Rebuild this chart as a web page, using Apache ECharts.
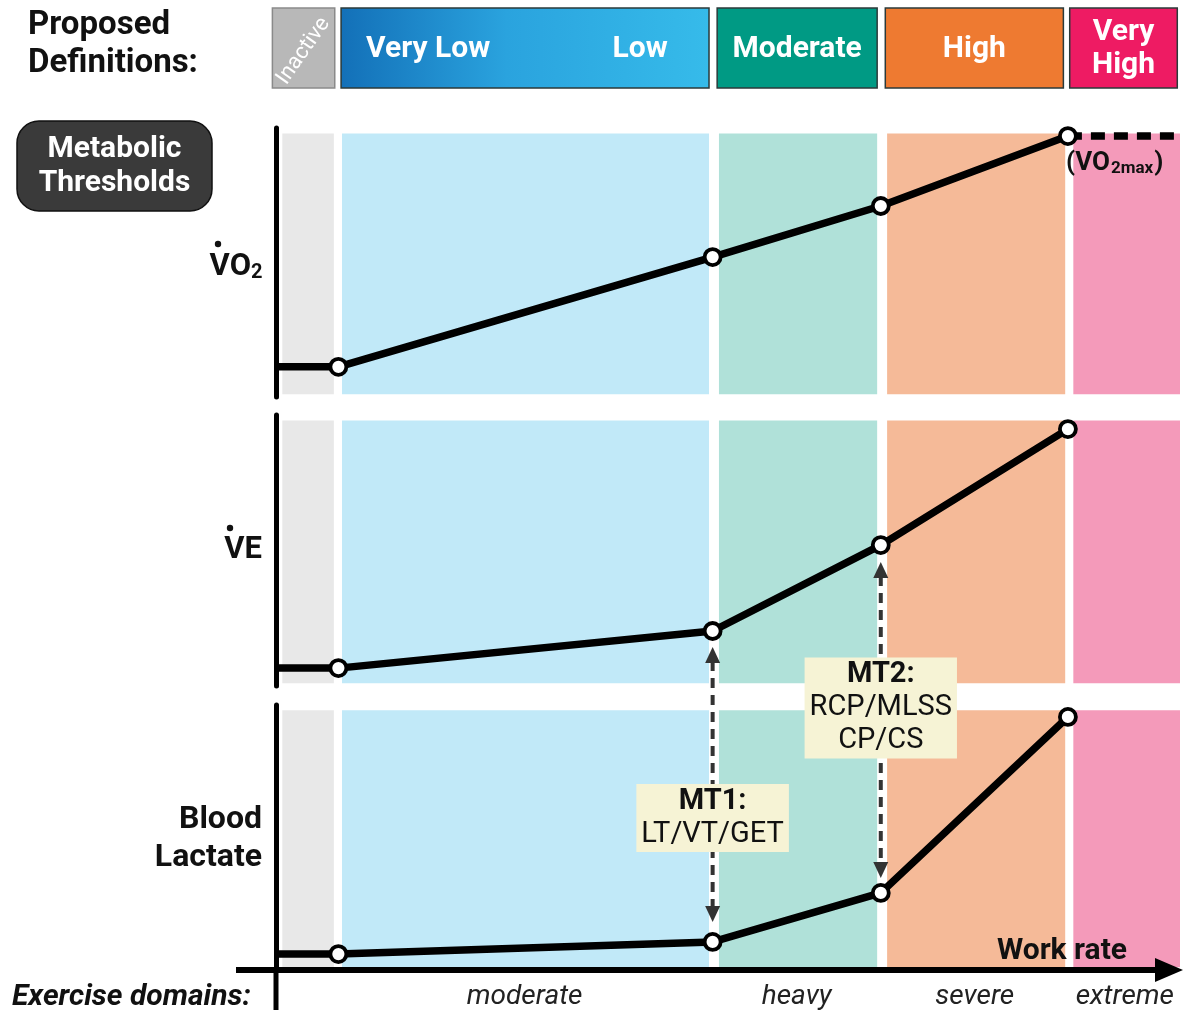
<!DOCTYPE html>
<html><head><meta charset="utf-8">
<script src="https://cdn.jsdelivr.net/npm/echarts@6/dist/echarts.min.js"></script>
<style>html,body{margin:0;padding:0;background:#fff}#c{width:1200px;height:1014px}</style>
</head><body><div id="c"></div>
<script>
// ---- data (work rate in arbitrary units 0-100, responses in arbitrary units 0-100) ----
const workRate = [0, 6.9, 48.3, 66.9, 87.6];
const vo2 = [11.2, 11.2, 52.0, 71.0, 97.0];
const vo2maxPlateau = [[87.6, 97.0], [100, 97.0]];
const ve = [6.6, 6.6, 20.3, 52.0, 94.8];
const lactate = [6.0, 6.0, 10.6, 29.1, 95.5];
const bandBounds = [[0.7, 6.4], [7.3, 47.9], [49.0, 66.5], [67.6, 87.3], [88.2, 100]];
const bandColors = ['#e8e8e8', '#c1e9f8', '#b0e1d9', '#f5ba98', '#f49aba'];
const definitionBounds = [[-0.4, 6.5], [7.2, 47.9], [48.8, 66.5], [67.4, 87.1], [87.8, 99.7]];
const definitionFills = ['#b8b8b8', 'grad', '#009a84', '#ee7a31', '#ee1b63'];
const domains = ['moderate', 'heavy', 'severe', 'extreme'];
const domainCenters = [27.5, 57.6, 77.3, 93.9];
const mt1 = {x: 48.3, title: 'MT1:', lines: 'LT/VT/GET'};
const mt2 = {x: 66.9, title: 'MT2:', lines: 'RCP/MLSS\nCP/CS'};

const FONT = 'Roboto';
const chart = echarts.init(document.getElementById('c'), null, {renderer: 'canvas'});
const mctx = document.createElement('canvas').getContext('2d');
const measure = (t, f) => { mctx.font = f; return mctx.measureText(t).width; };

const grids = [
  {left: 276, width: 904, top: 128, height: 269},
  {left: 276, width: 904, top: 415, height: 271},
  {left: 276, width: 904, top: 705, height: 265}
];
const xAxes = grids.map((g, i) => ({gridIndex: i, type: 'value', min: 0, max: 100, show: false}));
const yAxes = grids.map((g, i) => ({
  gridIndex: i, type: 'value', min: 0, max: 100,
  axisLine: {show: true, lineStyle: {color: '#000', width: 5}},
  axisTick: {show: false}, axisLabel: {show: false}, splitLine: {show: false}
}));

function bandsArea() {
  return {
    silent: true,
    data: bandBounds.map((b, i) => [
      {xAxis: b[0], yAxis: 1, itemStyle: {color: bandColors[i], opacity: 1}},
      {xAxis: b[1], yAxis: 98}
    ])
  };
}
function curve(vals, gi) {
  return {
    type: 'line', xAxisIndex: gi, yAxisIndex: gi, z: 5,
    data: workRate.map((x, i) => i === 0 ? {value: [x, vals[i]], symbol: 'none'} : [x, vals[i]]),
    symbol: 'circle', symbolSize: 16,
    lineStyle: {color: '#000', width: 7.5},
    itemStyle: {color: '#fff', borderColor: '#000', borderWidth: 3.8},
    animation: false
  };
}
const series = [];
[0, 1, 2].forEach(gi => {
  series.push({type: 'line', xAxisIndex: gi, yAxisIndex: gi, z: 1, data: [], markArea: bandsArea(), animation: false});
});
series.push({
  type: 'line', xAxisIndex: 0, yAxisIndex: 0, z: 4, data: vo2maxPlateau, symbol: 'none',
  lineStyle: {color: '#000', width: 7.5, type: [14, 9]}, animation: false
});
series.push(curve(vo2, 0));
series.push(curve(ve, 1));
series.push(curve(lactate, 2));

chart.setOption({
  backgroundColor: '#fff',
  animation: false,
  grid: grids, xAxis: xAxes, yAxis: yAxes, series: series
});

// ---- decorations positioned through the chart's own scales ----
const px = (gi, x, y) => chart.convertToPixel({gridIndex: gi}, [x, y]);
const G = [];

// Header
G.push({type: 'text', x: 28, y: 45, z: 50, style: {text: 'Proposed\nDefinitions:', fill: '#111', font: 'bold 33px ' + FONT, lineHeight: 38, align: 'left', verticalAlign: 'middle'}});
const headTop = 8, headBottom = 88;
definitionBounds.forEach((b, i) => {
  const x0 = px(0, b[0], 0)[0], x1 = px(0, b[1], 0)[0];
  let fill = definitionFills[i];
  if (fill === 'grad') fill = new echarts.graphic.LinearGradient(0, 0, 1, 0, [{offset: 0, color: '#1370b8'}, {offset: 0.45, color: '#2aa3de'}, {offset: 1, color: '#36bbea'}]);
  G.push({type: 'rect', z: 40, shape: {x: x0, y: headTop, width: x1 - x0, height: headBottom - headTop},
    style: {fill: fill, stroke: i === 0 ? '#8a8a8a' : '#2b3a3a', lineWidth: 1.5}});
  const cx = (x0 + x1) / 2, cy = (headTop + headBottom) / 2 + 1;
  const ws = {fill: '#fff', font: 'bold 30px ' + FONT, align: 'center', verticalAlign: 'middle'};
  if (i === 0) {
    G.push({type: 'text', x: cx, y: cy + 2, rotation: Math.PI * 55 / 180, z: 50, style: Object.assign({}, ws, {text: 'Inactive', font: '22px ' + FONT})});
  } else if (i === 1) {
    G.push({type: 'text', x: x0 + 25, y: cy, z: 50, style: Object.assign({}, ws, {text: 'Very Low', align: 'left'})});
    G.push({type: 'text', x: x0 + 299, y: cy, z: 50, style: Object.assign({}, ws, {text: 'Low'})});
  } else if (i === 2) {
    G.push({type: 'text', x: cx, y: cy, z: 50, style: Object.assign({}, ws, {text: 'Moderate'})});
  } else if (i === 3) {
    G.push({type: 'text', x: cx, y: cy, z: 50, style: Object.assign({}, ws, {text: 'High'})});
  } else {
    G.push({type: 'text', x: cx, y: cy, z: 50, style: Object.assign({}, ws, {text: 'Very\nHigh', lineHeight: 33})});
  }
});

// Metabolic thresholds badge
G.push({type: 'rect', z: 40, shape: {x: 17, y: 121, width: 195, height: 90, r: 22}, style: {fill: '#3a3a3a', stroke: '#111', lineWidth: 1.5}});
G.push({type: 'text', x: 114.5, y: 166, z: 50, style: {text: 'Metabolic\nThresholds', fill: '#fff', font: 'bold 30px ' + FONT, lineHeight: 34, align: 'center', verticalAlign: 'middle'}});

// Y labels
G.push({type: 'text', x: 251, y: 267, z: 50, style: {text: 'VO', fill: '#111', font: 'bold 31px ' + FONT, align: 'right', verticalAlign: 'middle'}});
G.push({type: 'text', x: 251, y: 273, z: 50, style: {text: '2', fill: '#111', font: 'bold 20px ' + FONT, align: 'left', verticalAlign: 'middle'}});
G.push({type: 'circle', z: 50, shape: {cx: 218, cy: 244, r: 3.2}, style: {fill: '#111'}});
G.push({type: 'text', x: 262, y: 550, z: 50, style: {text: 'VE', fill: '#111', font: 'bold 31px ' + FONT, align: 'right', verticalAlign: 'middle'}});
G.push({type: 'circle', z: 50, shape: {cx: 230, cy: 528, r: 3.2}, style: {fill: '#111'}});
G.push({type: 'text', x: 262, y: 839, z: 50, style: {text: 'Blood\nLactate', fill: '#111', font: 'bold 32px ' + FONT, lineHeight: 38, align: 'right', verticalAlign: 'middle'}});

// VO2max label
const vmx = px(0, 87.6, 97.0);
const fBig = 'bold 26px ' + FONT, fSub = 'bold 17px ' + FONT;
let lx = vmx[0] - 2;
G.push({type: 'text', x: lx, y: vmx[1] + 27, z: 50, style: {text: '(VO', fill: '#111', font: fBig, align: 'left', verticalAlign: 'middle'}});
lx += measure('(VO', fBig) + 1;
G.push({type: 'text', x: lx, y: vmx[1] + 33, z: 50, style: {text: '2max', fill: '#111', font: fSub, align: 'left', verticalAlign: 'middle'}});
lx += measure('2max', fSub) + 1;
G.push({type: 'text', x: lx, y: vmx[1] + 27, z: 50, style: {text: ')', fill: '#111', font: fBig, align: 'left', verticalAlign: 'middle'}});

// Threshold arrows
function arrow(x, topY, botY) {
  const c = '#333';
  G.push({type: 'polygon', z: 30, shape: {points: [[x, topY], [x - 7.5, topY + 16], [x + 7.5, topY + 16]]}, style: {fill: c}});
  G.push({type: 'polygon', z: 30, shape: {points: [[x, botY], [x - 7.5, botY - 16], [x + 7.5, botY - 16]]}, style: {fill: c}});
  G.push({type: 'line', z: 30, shape: {x1: x, y1: topY + 14, x2: x, y2: botY - 14}, style: {stroke: c, lineWidth: 4, lineDash: [10, 7]}});
}
const a1t = px(1, mt1.x, ve[2]), a1b = px(2, mt1.x, lactate[2]);
arrow(a1t[0], a1t[1] + 16, a1b[1] - 20);
const a2t = px(1, mt2.x, ve[3]), a2b = px(2, mt2.x, lactate[3]);
arrow(a2t[0], a2t[1] + 17, a2b[1] - 15);

function mtBox(x, y, t) {
  G.push({type: 'text', x: x, y: y, z: 60, style: {
    text: '{b|' + t.title + '}\n{r|' + t.lines.split('\n').join('}\n{r|') + '}',
    rich: {b: {font: 'bold 29px ' + FONT, fill: '#111', lineHeight: 33, align: 'center'}, r: {font: '29px ' + FONT, fill: '#111', lineHeight: 33, align: 'center'}},
    align: 'center', verticalAlign: 'middle', backgroundColor: '#f6f3d5', padding: [1, 5, 1, 5]
  }});
}
mtBox(a1t[0], 818, mt1);
mtBox(a2t[0], 708, mt2);

// Work-rate axis arrow
const baseY = px(2, 0, 0)[1];
G.push({type: 'line', z: 30, shape: {x1: 236, y1: baseY, x2: 1160, y2: baseY}, style: {stroke: '#000', lineWidth: 6}});
G.push({type: 'polygon', z: 30, shape: {points: [[1183, baseY], [1155, baseY - 12], [1155, baseY + 12]]}, style: {fill: '#000'}});
G.push({type: 'line', z: 30, shape: {x1: 276, y1: baseY - 2, x2: 276, y2: 1010}, style: {stroke: '#000', lineWidth: 5}});
G.push({type: 'text', x: 1127, y: 951, z: 50, style: {text: 'Work rate', fill: '#111', font: 'bold 30px ' + FONT, align: 'right', verticalAlign: 'middle'}});

// Exercise domains
G.push({type: 'text', x: 12, y: 997, z: 50, style: {text: 'Exercise domains:', fill: '#111', font: 'italic bold 30px ' + FONT, align: 'left', verticalAlign: 'middle'}});
domains.forEach((d, i) => {
  const p = px(2, domainCenters[i], 0);
  G.push({type: 'text', x: p[0], y: 997, z: 50, style: {text: d, fill: '#222', font: 'italic 28px ' + FONT, align: 'center', verticalAlign: 'middle'}});
});

chart.setOption({graphic: {elements: G}});
</script></body></html>
